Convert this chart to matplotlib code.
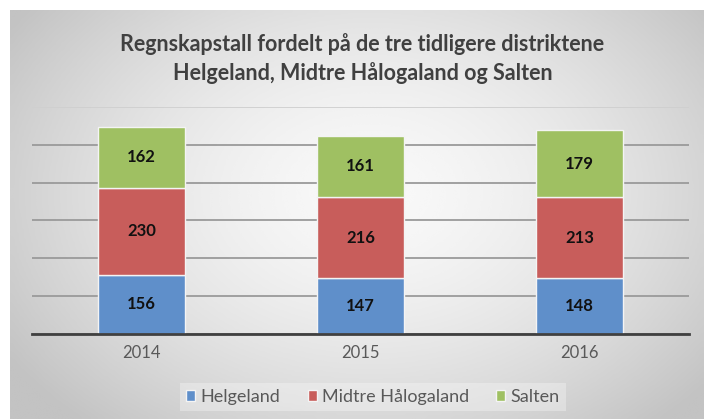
import numpy as np
import matplotlib
matplotlib.use("Agg")
import matplotlib.pyplot as plt

years = ["2014", "2015", "2016"]
helgeland = [156, 147, 148]
midtre = [230, 216, 213]
salten = [162, 161, 179]
series_names = ["Helgeland", "Midtre Hålogaland", "Salten"]
colors = ["#5f8fca", "#c85d5b", "#9fc062"]
title = "Regnskapstall fordelt på de tre tidligere distriktene\nHelgeland, Midtre Hålogaland og Salten"

plt.rcParams["font.family"] = ["Lato", "DejaVu Sans"]

fig = plt.figure(figsize=(7.04, 4.19), dpi=100)
fig.patch.set_facecolor("white")

# radial gray gradient panel behind the chart
bg = fig.add_axes([10 / 704, 0, 694 / 704, 409 / 419])
yy, xx = np.mgrid[0:1:200j, 0:1:300j]
r = np.sqrt(((xx - 0.52) / 0.62) ** 2 + ((yy - 0.45) / 0.75) ** 2)
shade = 0.975 - 0.21 * np.clip(r, 0, 1) ** 1.6
bg.imshow(shade, cmap="gray", vmin=0, vmax=1, aspect="auto",
          extent=[0, 1, 0, 1], interpolation="bicubic")
bg.axis("off")

ax = fig.add_axes([32 / 704, 85 / 419, 657 / 704, 227 / 419])
ax.patch.set_alpha(0)

x = np.arange(len(years))
bottom = np.zeros(len(years))
for vals, name, c in zip([helgeland, midtre, salten], series_names, colors):
    bars = ax.bar(x, vals, 0.40, bottom=bottom, color=c, label=name,
                  edgecolor="#f4f4f4", linewidth=1.0, zorder=3)
    ax.bar_label(bars, labels=[str(v) for v in vals], label_type="center",
                 fontsize=12, fontweight="bold", color="#111111", zorder=4)
    bottom += np.array(vals)

ax.set_xlim(-0.5, 2.5)
ax.set_ylim(0, 600)
ax.set_yticks(range(0, 601, 100))
ax.yaxis.grid(True, color="#9a9a9a", linewidth=1.3, zorder=0)
ax.get_ygridlines()[-1].set_color("#cfcfcf")
ax.tick_params(axis="y", left=False, labelleft=False)
ax.set_xticks(x)
ax.set_xticklabels(years, fontsize=12, color="#595959")
ax.tick_params(axis="x", length=0, pad=8)
for s in ["top", "right", "left"]:
    ax.spines[s].set_visible(False)
ax.spines["bottom"].set_color("#404040")
ax.spines["bottom"].set_linewidth(2)
ax.spines["bottom"].set_zorder(5)

fig.text(0.515, 0.86, title, ha="center", va="center", fontsize=15.5,
         fontweight="bold", color="#404040", linespacing=1.4)

leg = fig.legend(loc="center", bbox_to_anchor=(373 / 704, 22 / 419), ncol=3,
                 frameon=True, fontsize=13, handlelength=0.5, handleheight=0.5,
                 handletextpad=0.3, columnspacing=1.5, borderpad=0.35)
leg.get_frame().set_facecolor("#ffffff")
leg.get_frame().set_alpha(0.3)
leg.get_frame().set_edgecolor("none")
leg.get_frame().set_boxstyle("square", pad=0)
for t in leg.get_texts():
    t.set_color("#595959")

fig.savefig("out.png", dpi=100)
